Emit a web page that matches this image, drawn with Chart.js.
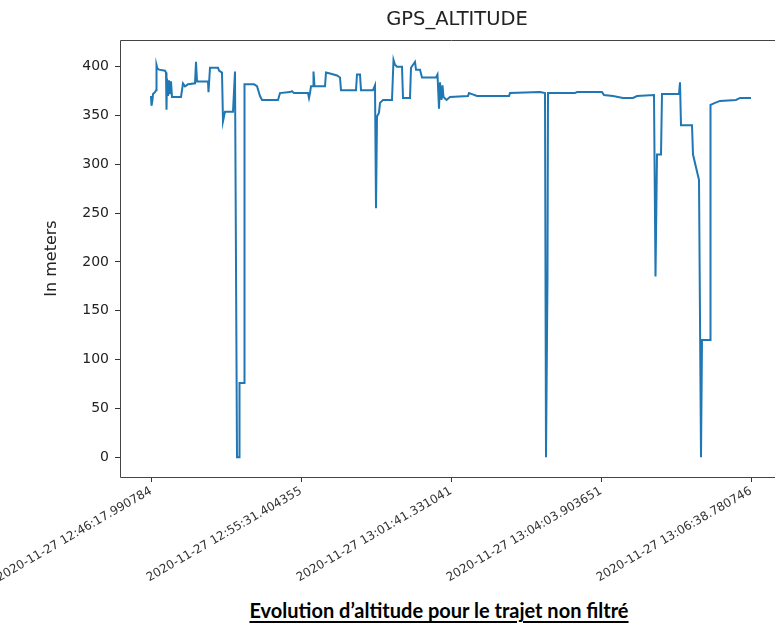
<!DOCTYPE html>
<html>
<head>
<meta charset="utf-8">
<script src="https://cdn.jsdelivr.net/npm/chart.js@4.4.0/dist/chart.umd.min.js"></script>
<style>
  html, body { margin: 0; padding: 0; background: #fff; overflow: hidden; width: 775px; height: 630px; }
  #wrap { position: absolute; left: 0; top: 0; width: 800px; height: 590px; }
  #caption { position: absolute; left: 0; top: 598px; width: 878px; text-align: center;
    font-family: Lato, "Open Sans", sans-serif; font-weight: bold; font-size: 20px; color: #000;
    text-decoration: underline; text-underline-offset: 3px; text-decoration-thickness: 1.5px; }
</style>
</head>
<body>
<div id="wrap"><canvas id="c" width="800" height="590"></canvas></div>
<div id="caption">Evolution d’altitude pour le trajet non filtré</div>
<script>
// sample index (position in the recorded series) of each breakpoint of the trace
const sampleIndex = [0,0.5,1.5,2,4,5,5.5,6.5,8,14,15,15.5,16,17,18,19,20,21,30,32,34,37,44,45,46,57,57.5,59,67,68,71,72,74,82,84,86,88,88.5,93,93.5,103,106,109,111,127,129,139,141,143,157,158,159,160,162,162.5,163.5,174,175,179,186,189,190,205,206,209,210,222,224,225,226,228,229,232,241,242.5,244,246,251,252,259,260,262,264,265,269,271,285,286.5,288,289,290.5,291.5,292.5,295.5,299,317,318,321,326,358,359,389,394,395,396.5,397,424,426,451,453,462,472,482,486,503,504.5,506,510,511,528,529,530,541,542,548,550,551,559,559.5,564,569,585,589,600];
// GPS altitude in meters
const altitude = [370,360,366,372,374,376,402,398,397,396,394,356,388,370,386,372,385,369,369,383,380,382,383,405,385,385,374,399,399,396,394,344,354,354,395,0,0,76,76,382,382,380,370,366,366,373,374,375,373,373,368,373,380,380,395,380,380,394,393,391,389,376,376,392,392,376,376,381,255,349,353,363,366,366,407,402,400,400,368,368,399,402,405,397,397,389,389,392,357,384,366,381,369,366,369,370,373,372,370,370,373,374,373,0,185,373,373,374,374,371,370,368,368,370,371,185,310,310,372,372,384,340,340,310,284,0,120,120,361,363,365,366,368,368];

const xTickPos = [0,150,300,450,600];
const xTickLabels = ["2020-11-27 12:46:17.990784","2020-11-27 12:55:31.404355","2020-11-27 13:01:41.331041","2020-11-27 13:04:03.903651","2020-11-27 13:06:38.780746"];
const yTicks = [0,50,100,150,200,250,300,350,400];
const chartTitle = "GPS_ALTITUDE";
const yTitle = "In meters";

const points = sampleIndex.map((x, i) => ({x: x, y: altitude[i]}));

const framePlugin = {
  id: 'frame',
  afterDatasetsDraw(chart) {
    const {ctx, chartArea: a} = chart;
    const l = Math.round(a.left) + 0.5, t = Math.round(a.top) + 0.5;
    const r = Math.round(a.right) + 0.5, b = Math.round(a.bottom) + 0.5;
    ctx.save();
    ctx.strokeStyle = '#444';
    ctx.lineWidth = 1;
    ctx.beginPath();
    ctx.moveTo(r, t); ctx.lineTo(l, t); ctx.lineTo(l, b); ctx.lineTo(r, b);
    ctx.stroke();
    ctx.fillStyle = '#222';
    ctx.font = '19.5px "DejaVu Sans", sans-serif';
    ctx.textAlign = 'center';
    ctx.textBaseline = 'middle';
    ctx.fillText(chartTitle, (a.left + a.right) / 2 + 6, 20);
    ctx.restore();
  }
};

new Chart(document.getElementById('c'), {
  type: 'line',
  data: { datasets: [{ data: points, borderColor: '#1f77b4', borderWidth: 2, pointRadius: 0, tension: 0, fill: false }] },
  options: {
    responsive: false,
    devicePixelRatio: 1,
    animation: false,
    layout: { padding: { top: 40, right: 18, left: 0, bottom: 0 } },
    plugins: { legend: { display: false }, tooltip: { enabled: false }, title: { display: false } },
    scales: {
      x: {
        type: 'linear', min: -31, max: 631,
        afterBuildTicks: (s) => { s.ticks = xTickPos.map(v => ({value: v})); },
        afterFit: (s) => { s.height = 113; s.paddingLeft = 0; s.paddingRight = 0; },
        grid: { drawOnChartArea: false, drawTicks: true, tickLength: 5, color: '#333' },
        border: { display: false },
        ticks: {
          autoSkip: false, minRotation: 30, maxRotation: 30, padding: 2,
          color: '#333', font: { family: '"DejaVu Sans", sans-serif', size: 12 },
          callback: (v) => { const k = xTickPos.indexOf(v); return k >= 0 ? xTickLabels[k] : ''; }
        }
      },
      y: {
        min: -20.35, max: 427.4,
        afterBuildTicks: (s) => { s.ticks = yTicks.map(v => ({value: v})); },
        afterFit: (s) => { s.width = 120; s.paddingTop = 0; s.paddingBottom = 0; },
        grid: { drawOnChartArea: false, drawTicks: true, tickLength: 5, color: '#333' },
        border: { display: false },
        ticks: { color: '#222', padding: 6, font: { family: '"DejaVu Sans", sans-serif', size: 14 } },
        title: { display: true, text: yTitle, color: '#222', font: { family: '"DejaVu Sans", sans-serif', size: 16 }, padding: { top: 42, bottom: 0 } }
      }
    }
  },
  plugins: [framePlugin]
});
</script>
</body>
</html>
